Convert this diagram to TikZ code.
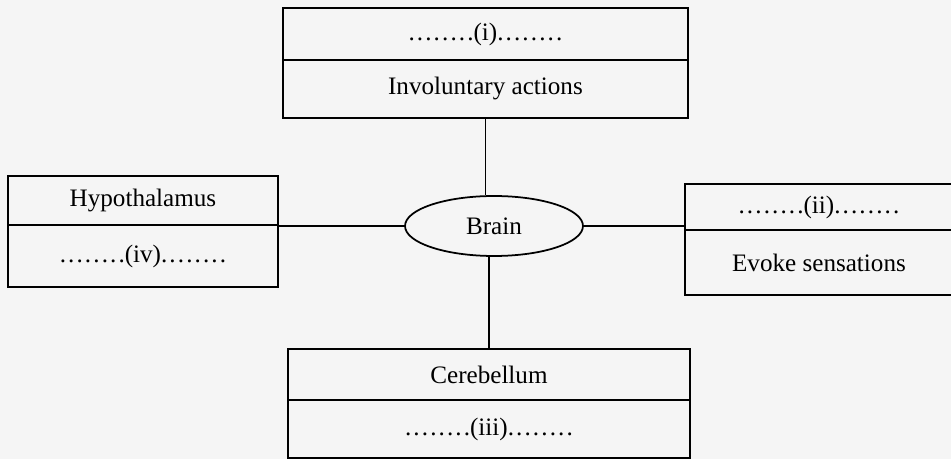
\documentclass[tikz,border=0pt]{standalone}
\usepackage{fontspec}
\setmainfont{Liberation Serif}
\usetikzlibrary{positioning,shapes.geometric}

\newcommand{\blankdots}{.\kern1.2pt.\kern1.2pt.\kern1.2pt.\kern1.2pt.\kern1.2pt.\kern1.2pt.\kern1.2pt.}

\begin{document}
\begin{tikzpicture}[
			x=0.02cm, y=-0.02cm,
			cell/.style={rectangle, draw, line width=1pt, inner sep=0pt, outer sep=0pt, align=center, font=\fontsize{14.3}{17}\selectfont},
			oval/.style={ellipse, draw, line width=1pt, inner sep=0pt, minimum width=3.56cm, minimum height=1.2cm, font=\fontsize{14.3}{17}\selectfont},
			link/.style={line width=1pt}
			]
			
			% Frame
			\useasboundingbox[fill=black!4] (0,0) rectangle (951,459);
			
			% Centre
			\node[oval] (brain) at (494,226) {Brain};
			
			% Top
			\node[cell, anchor=north west, minimum width=8.1cm, minimum height=1.04cm] (fillone) at (283,8) {\blankdots(i)\blankdots};
			\node[cell, below=0pt of fillone, minimum width=8.1cm, minimum height=1.16cm] (invol) {Involuntary actions};
			
			% Left
			\node[cell, anchor=north west, minimum width=5.4cm, minimum height=0.98cm] (hypo) at (8,176) {Hypothalamus};
			\node[cell, below=0pt of hypo, minimum width=5.4cm, minimum height=1.24cm] (fillfour) {\blankdots(iv)\blankdots};
			
			% Right
			\node[cell, anchor=north west, minimum width=5.36cm, minimum height=0.92cm] (filltwo) at (685,184) {\blankdots(ii)\blankdots};
			\node[cell, below=0pt of filltwo, minimum width=5.36cm, minimum height=1.3cm] (evoke) {Evoke sensations};
			
			% Bottom
			\node[cell, anchor=north west, minimum width=8.04cm, minimum height=1.02cm] (cereb) at (288,349) {Cerebellum};
			\node[cell, below=0pt of cereb, minimum width=8.04cm, minimum height=1.16cm] (fillthree) {\blankdots(iii)\blankdots};
			
			% Links
			\draw[link] (invol) -- (invol |- brain.north);
			\draw[link] (brain.west) -- (brain.west -| fillfour.east);
			\draw[link] (brain.east) -- (brain.east -| evoke.west);
			\draw[link] (cereb) -- (cereb |- brain.south);
			
		\end{tikzpicture}
\end{document}
